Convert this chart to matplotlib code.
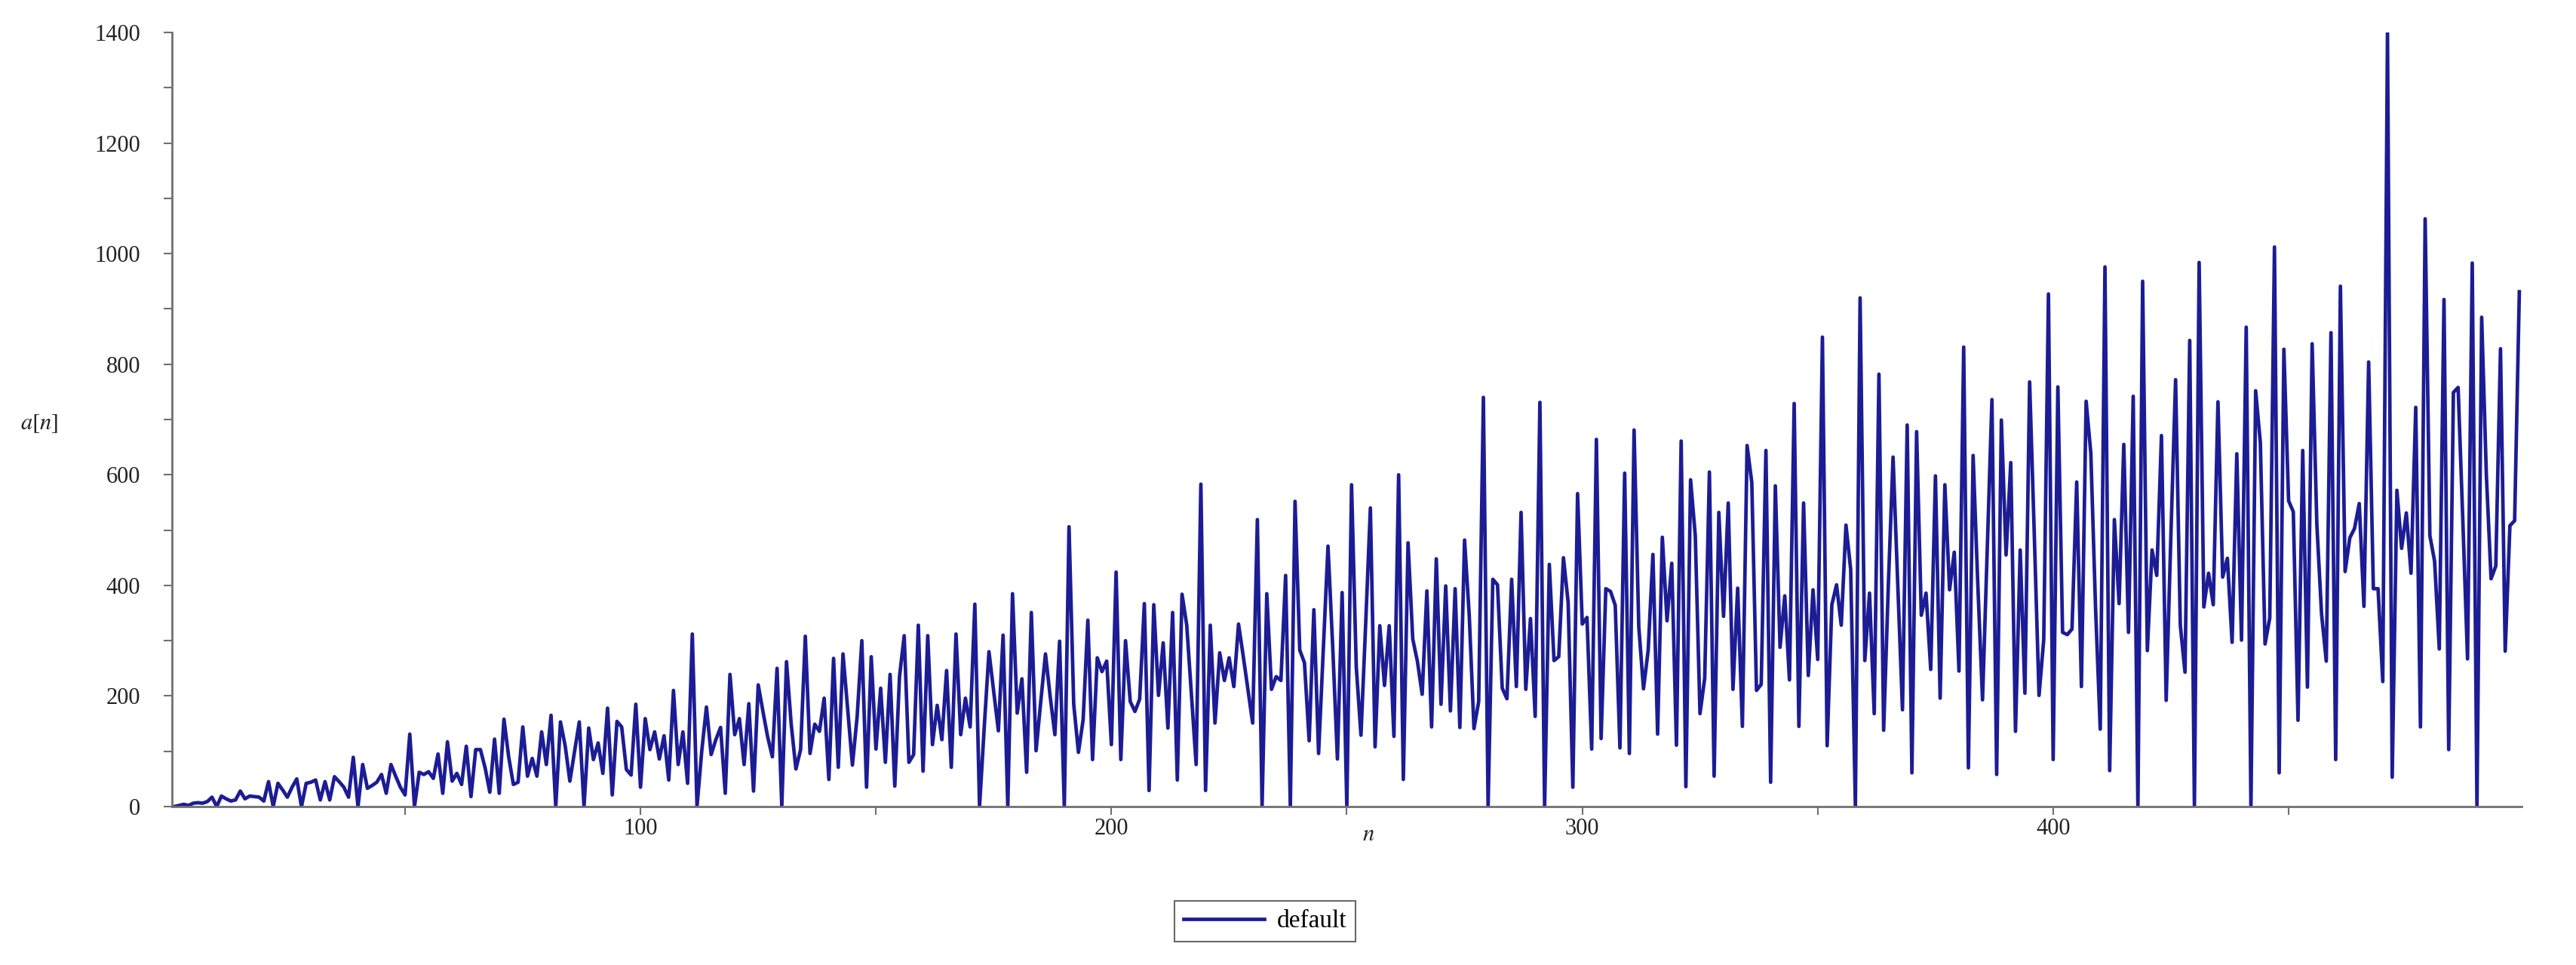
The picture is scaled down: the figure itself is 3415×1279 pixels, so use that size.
import matplotlib.pyplot as plt
from matplotlib.ticker import MultipleLocator, FixedLocator

plt.rcParams['font.family'] = ['Liberation Serif', 'DejaVu Serif']
plt.rcParams['mathtext.fontset'] = 'stix'

# a[n] values, n = 1..499
a_001_055 = [0, 2, 4, 2, 6, 7, 6, 9, 17, 0, 19, 14, 10, 12, 28, 14, 19, 18, 17, 10,
             45, 0, 42, 30, 17, 35, 50, 0, 42, 44, 48, 12, 45, 12, 54, 45, 35, 17, 89, 0,
             76, 33, 38, 44, 58, 24, 76, 55, 35, 21, 131, 0, 62, 58, 63]
a_056_110 = [51, 95, 24, 117, 46, 60, 40, 109, 18, 103, 103, 70, 26, 122, 24, 158, 90, 40, 44, 144,
             55, 87, 55, 135, 76, 165, 0, 153, 110, 46, 100, 153, 0, 142, 85, 115, 60, 178, 21, 154,
             144, 67, 57, 185, 35, 159, 103, 135, 86, 128, 48, 210, 76, 135, 42]
a_111_156 = [312, 0, 100, 180, 94, 121, 143, 24, 239, 130, 159, 76, 186, 28, 220, 172, 126, 90, 250, 0,
             262, 149, 68, 103, 308, 96, 149, 136, 196, 49, 268, 71, 276, 176, 75, 162, 300, 35, 271, 104,
             214, 80, 239, 37, 235, 309]
a_157_196 = [80, 94, 328, 64, 309, 112, 183, 121, 246, 71, 312, 130, 196, 144, 366, 0, 144, 280, 208, 137,
             310, 0, 385, 169, 231, 62, 351, 101, 190, 276, 199, 130, 299, 0, 506, 185, 98, 157, 337, 85]
a_197_236 = [269, 244, 263, 112, 424, 85, 300, 190, 172, 194, 367, 29, 365, 201, 296, 142, 351, 48, 384, 328,
             203, 76, 583, 29, 328, 151, 278, 228, 269, 217, 330, 272, 212, 151, 519, 0, 385, 212, 235, 228]
a_237_268 = [418, 0, 552, 283, 260, 119, 356, 96, 284, 471, 289, 86, 387, 0, 582, 253, 129, 330, 540, 108,
             327, 219, 327, 127, 600, 49, 477, 303, 262, 203, 390, 144]
a_269_313 = [448, 185, 399, 173, 394, 143, 482, 345, 141, 190, 740, 0, 411, 401, 214, 195, 411, 217, 532, 212,
             340, 163, 731, 0, 438, 264, 271, 450, 369, 35, 566, 330, 342, 104, 664, 123, 394, 389, 364, 106,
             603, 96, 681, 325, 213]
a_314_352 = [283, 456, 131, 487, 336, 440, 111, 661, 36, 591, 490, 168, 232, 605, 55, 532, 344, 549, 212, 395,
             145, 653, 586, 210, 221, 644, 44, 580, 288, 381, 229, 729, 145, 549, 237, 392, 266, 849, 110]
a_353_391 = [365, 401, 328, 509, 429, 0, 920, 264, 386, 168, 782, 138, 401, 632, 401, 175, 690, 61, 678, 346,
             386, 248, 598, 196, 582, 392, 460, 245, 831, 70, 635, 401, 193, 463, 736, 58, 699, 455, 622]
a_392_431 = [136, 464, 205, 768, 490, 201, 302, 927, 85, 759, 315, 311, 321, 587, 217, 733, 639, 360, 140, 976,
             65, 519, 367, 655, 315, 742, 0, 950, 282, 464, 418, 671, 192, 490, 772, 328, 243, 843, 0, 984]
a_432_465 = [361, 422, 365, 732, 415, 449, 297, 638, 301, 867, 0, 752, 658, 294, 341, 1012, 61, 827, 553, 533,
             156, 644, 216, 837, 510, 348, 263, 857, 85, 941, 425, 486, 503, 548]
a_466_499 = [362, 804, 394, 394, 226, 1399, 53, 572, 467, 531, 422, 722, 144, 1063, 490, 444, 285, 917, 103, 749,
             758, 517, 267, 983, 0, 885, 599, 412, 435, 828, 281, 508, 517, 931]

a_vals = (a_001_055 + a_056_110 + a_111_156 + a_157_196 + a_197_236 + a_237_268 + a_269_313
          + a_314_352 + a_353_391 + a_392_431 + a_432_465 + a_466_499)
n_vals = list(range(1, len(a_vals) + 1))

y_ticks = [0, 200, 400, 600, 800, 1000, 1200, 1400]
x_ticks = [100, 200, 300, 400]

W, H = 3416, 1279
fig = plt.figure(figsize=(W / 100, H / 100), dpi=100)
ax = fig.add_axes([228 / W, 1 - 1069 / H, (3343 - 228) / W, (1069 - 43) / H])

line, = ax.plot(n_vals, a_vals, color='#1c1c94', lw=3.4, label='default')

ax.set_xlim(0.5, 499.5)
ax.set_ylim(0, 1400)
for s in ['top', 'right']:
    ax.spines[s].set_visible(False)
for s in ['left', 'bottom']:
    ax.spines[s].set_color('#707070')
    ax.spines[s].set_linewidth(2)

ax.yaxis.set_major_locator(FixedLocator(y_ticks))
ax.yaxis.set_minor_locator(MultipleLocator(100))
ax.xaxis.set_major_locator(FixedLocator(x_ticks))
ax.xaxis.set_minor_locator(MultipleLocator(50))
ax.tick_params(which='both', direction='out', length=8, width=1.5, color='#707070',
               labelsize=22, labelcolor='#222222')
ax.tick_params(axis='y', pad=22)
ax.tick_params(axis='x', pad=3)

fig.text(1814 / W, 1 - 1106 / H, '$n$', fontsize=22, ha='center', va='center', color='#222222')
fig.text(52 / W, 1 - 562 / H, '$a[n]$', fontsize=22, ha='center', va='center', color='#222222')

leg = fig.legend(handles=[line], loc='center', bbox_to_anchor=(1677 / W, 1 - 1221 / H),
                 fancybox=False, edgecolor='#444444', fontsize=24, handlelength=3.2,
                 borderpad=0.35, handletextpad=0.5, borderaxespad=0)
leg.get_frame().set_linewidth(1.5)

fig.savefig('out.png', dpi=100)
